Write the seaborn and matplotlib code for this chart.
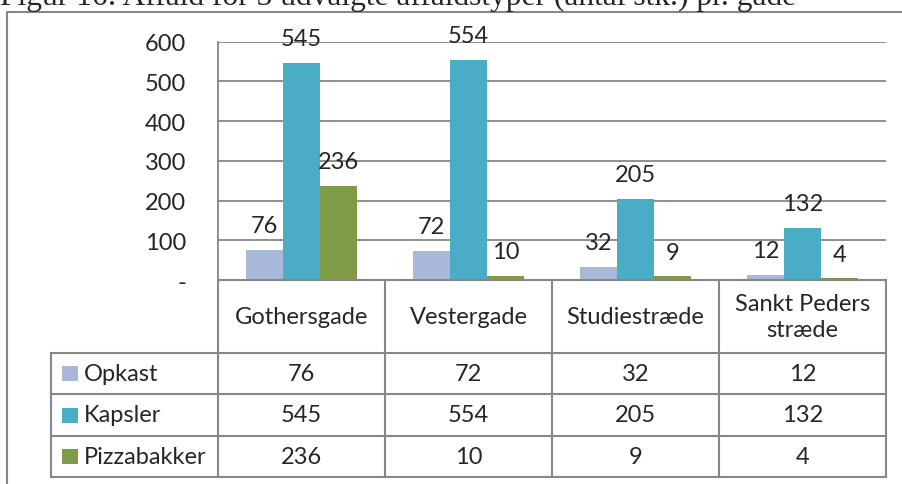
import numpy as np
import pandas as pd
import seaborn as sns
from matplotlib import pyplot as plt
from matplotlib.patches import Rectangle

# data
gader = ['Gothersgade', 'Vestergade', 'Studiestræde', 'Sankt Peders\nstræde']
typer = ['Opkast', 'Kapsler', 'Pizzabakker']
opkast = [76, 72, 32, 12]
kapsler = [545, 554, 205, 132]
pizzabakker = [236, 10, 9, 4]
yticks = [0, 100, 200, 300, 400, 500, 600]
ytick_labels = ['-', '100', '200', '300', '400', '500', '600']
title = 'Figur 16: Affald for 3 udvalgte affaldstyper (antal stk.) pr. gade'

colors = ['#A8B8D8', '#4BACC6', '#809B48']
line_c = '#878787'
W, H = 903, 485

sns.set_style('white')
plt.rcParams['font.family'] = ['Lato', 'DejaVu Sans']
fs = 17

df = pd.DataFrame({
    'gade': np.repeat(gader, 3),
    'type': typer * len(gader),
    'antal': np.ravel(np.column_stack([opkast, kapsler, pizzabakker])),
})

fig = plt.figure(figsize=(W / 100, H / 100), dpi=100)


def box(x0, y0, x1, y1):
    return [x0 / W, 1 - y1 / H, (x1 - x0) / W, (y1 - y0) / H]


ax = fig.add_axes(box(218, 42.5, 886, 281))
sns.barplot(data=df, x='gade', y='antal', hue='type', hue_order=typer, order=gader,
            palette=colors, width=0.665, saturation=1, legend=False, ax=ax, linewidth=0)
for cont in ax.containers:
    ax.bar_label(cont, padding=10, fontsize=fs)

ax.set_ylim(0, 600)
ax.set_xlim(-0.5, 3.5)
ax.set_yticks(yticks)
ax.set_yticklabels(ytick_labels)
ax.tick_params(axis='y', length=0, pad=23, labelsize=fs)
ax.set_xticks([])
ax.set_xlabel('')
ax.set_ylabel('')
ax.grid(axis='y', color=line_c, lw=1.3)
ax.set_axisbelow(True)
for s in ['top', 'right', 'bottom']:
    ax.spines[s].set_visible(False)
ax.spines['left'].set_color(line_c)
ax.spines['left'].set_linewidth(1.3)

# data table
tab = fig.add_axes(box(51, 281, 886, 478))
tab.set_xlim(-1.5, 3.5)
tab.set_ylim(197, 0)
tab.axis('off')
rows = [0, 73, 114.3, 155.7, 197]
lk = dict(color=line_c, lw=1.5, solid_capstyle='projecting', clip_on=False)
tab.plot([-0.5, 3.5], [0, 0], **lk)
for r in rows[1:]:
    tab.plot([-1.5, 3.5], [r, r], **lk)
for i in range(5):
    tab.plot([i - 0.5, i - 0.5], [0, 197], **lk)
tab.plot([-1.5, -1.5], [73, 197], **lk)

for i, g in enumerate(gader):
    tab.text(i, 36.5, g, ha='center', va='center', fontsize=fs, linespacing=1.35)
series = [opkast, kapsler, pizzabakker]
for j, (navn, vals) in enumerate(zip(typer, series)):
    yc = (rows[j + 1] + rows[j + 2]) / 2
    tab.add_patch(Rectangle((-1.5 + 11 / 167, yc - 7.5), 16 / 167, 15, color=colors[j], lw=0))
    tab.text(-1.5 + 33 / 167, yc, navn, ha='left', va='center', fontsize=fs)
    for i, v in enumerate(vals):
        tab.text(i, yc, str(v), ha='center', va='center', fontsize=fs)

# chart border and caption
fig.add_artist(plt.Line2D([7 / W, 7 / W, 1], [0, 1 - 13 / H, 1 - 13 / H],
                          color=line_c, lw=1.5, transform=fig.transFigure))
fig.text(0, 1 - 5.5 / H, title, family='Liberation Serif', fontsize=22.7,
         ha='left', va='baseline')

fig.savefig('out.png', dpi=100)
